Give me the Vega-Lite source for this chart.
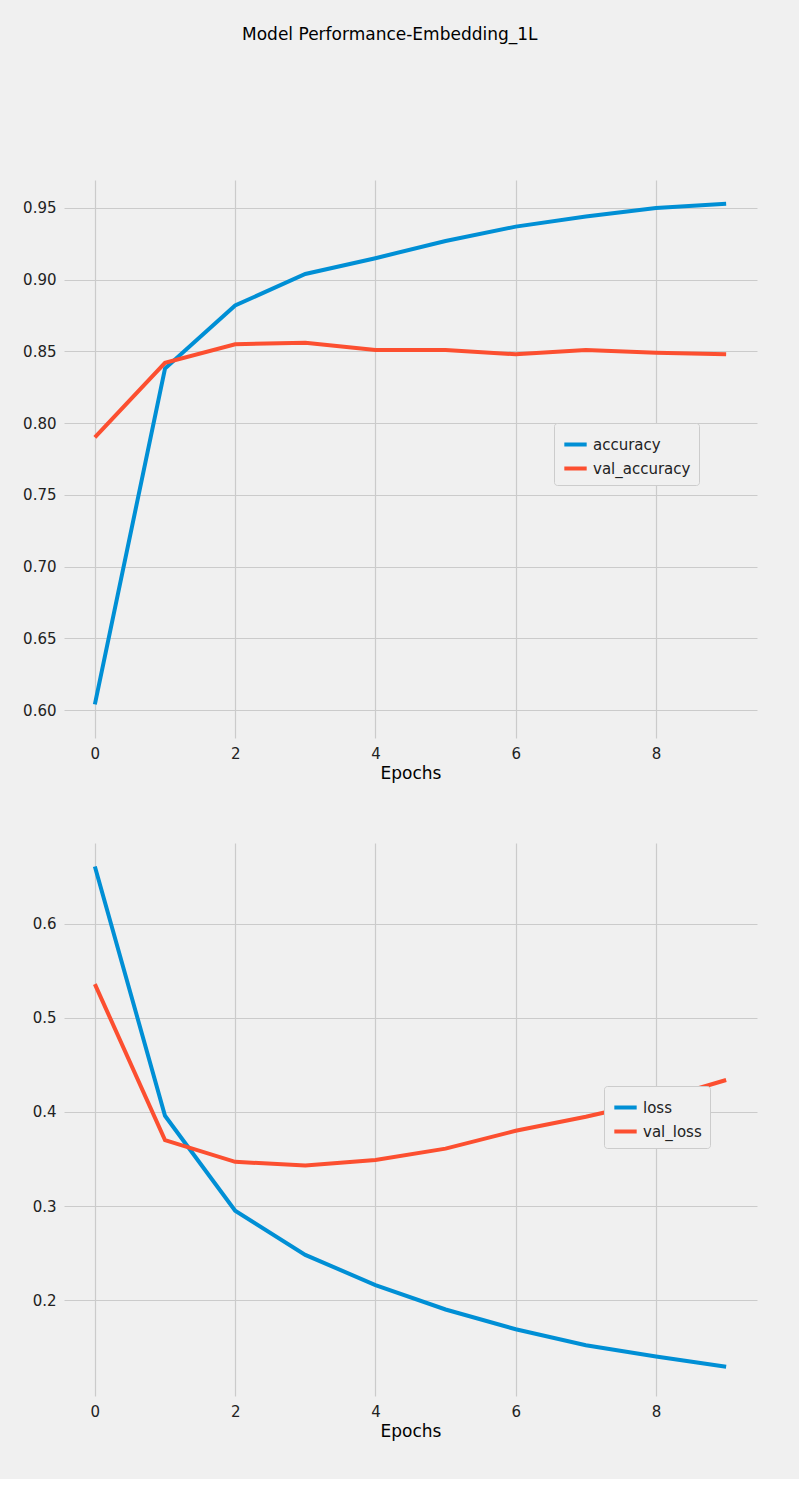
{
  "$schema": "https://vega.github.io/schema/vega-lite/v6.json",
  "background": "#f0f0f0",
  "padding": {"left": 22, "top": 26, "right": 42, "bottom": 40},
  "autosize": {"type": "pad"},
  "title": {"text": "Model Performance-Embedding_1L", "fontSize": 17, "fontWeight": "normal", "font": "DejaVu Sans", "color": "#000", "offset": 136, "anchor": "middle"},
  "config": {
    "view": {"stroke": null},
    "font": "DejaVu Sans",
    "axis": {"grid": true, "gridColor": "#cbcbcb", "gridWidth": 1.2, "domain": false, "ticks": false, "labelFontSize": 15, "labelColor": "#222", "labelPadding": 8, "titleFontSize": 17, "titleFontWeight": "normal", "titleColor": "#000"},
    "legend": {"labelFontSize": 15, "labelColor": "#222", "symbolType": "stroke", "symbolStrokeWidth": 4, "symbolSize": 500, "fillColor": "#f0f0f0", "strokeColor": "#cccccc", "padding": 8, "cornerRadius": 3, "title": null}
  },
  "spacing": 62,
  "datasets": {
    "acc": [
      {"epoch": 0, "series": "accuracy", "v": 0.604}, {"epoch": 1, "series": "accuracy", "v": 0.838},
      {"epoch": 2, "series": "accuracy", "v": 0.882}, {"epoch": 3, "series": "accuracy", "v": 0.904},
      {"epoch": 4, "series": "accuracy", "v": 0.915}, {"epoch": 5, "series": "accuracy", "v": 0.927},
      {"epoch": 6, "series": "accuracy", "v": 0.937}, {"epoch": 7, "series": "accuracy", "v": 0.944},
      {"epoch": 8, "series": "accuracy", "v": 0.950}, {"epoch": 9, "series": "accuracy", "v": 0.953},
      {"epoch": 0, "series": "val_accuracy", "v": 0.790}, {"epoch": 1, "series": "val_accuracy", "v": 0.842},
      {"epoch": 2, "series": "val_accuracy", "v": 0.855}, {"epoch": 3, "series": "val_accuracy", "v": 0.856},
      {"epoch": 4, "series": "val_accuracy", "v": 0.851}, {"epoch": 5, "series": "val_accuracy", "v": 0.851},
      {"epoch": 6, "series": "val_accuracy", "v": 0.848}, {"epoch": 7, "series": "val_accuracy", "v": 0.851},
      {"epoch": 8, "series": "val_accuracy", "v": 0.849}, {"epoch": 9, "series": "val_accuracy", "v": 0.848}
    ],
    "loss": [
      {"epoch": 0, "series": "loss", "v": 0.661}, {"epoch": 1, "series": "loss", "v": 0.396},
      {"epoch": 2, "series": "loss", "v": 0.295}, {"epoch": 3, "series": "loss", "v": 0.248},
      {"epoch": 4, "series": "loss", "v": 0.216}, {"epoch": 5, "series": "loss", "v": 0.190},
      {"epoch": 6, "series": "loss", "v": 0.169}, {"epoch": 7, "series": "loss", "v": 0.152},
      {"epoch": 8, "series": "loss", "v": 0.140}, {"epoch": 9, "series": "loss", "v": 0.129},
      {"epoch": 0, "series": "val_loss", "v": 0.536}, {"epoch": 1, "series": "val_loss", "v": 0.370},
      {"epoch": 2, "series": "val_loss", "v": 0.347}, {"epoch": 3, "series": "val_loss", "v": 0.343},
      {"epoch": 4, "series": "val_loss", "v": 0.349}, {"epoch": 5, "series": "val_loss", "v": 0.361},
      {"epoch": 6, "series": "val_loss", "v": 0.380}, {"epoch": 7, "series": "val_loss", "v": 0.395},
      {"epoch": 8, "series": "val_loss", "v": 0.412}, {"epoch": 9, "series": "val_loss", "v": 0.434}
    ]
  },
  "vconcat": [
    {
      "width": 693, "height": 558,
      "data": {"name": "acc"},
      "mark": {"type": "line", "strokeWidth": 4, "clip": true},
      "encoding": {
        "x": {"field": "epoch", "type": "quantitative", "scale": {"domain": [-0.44, 9.44], "nice": false, "zero": false}, "axis": {"values": [0, 2, 4, 6, 8], "title": "Epochs"}},
        "y": {"field": "v", "type": "quantitative", "scale": {"domain": [0.5805, 0.9695], "nice": false, "zero": false}, "axis": {"values": [0.6, 0.65, 0.7, 0.75, 0.8, 0.85, 0.9, 0.95], "format": ".2f", "title": null}},
        "color": {"field": "series", "type": "nominal", "scale": {"range": ["#008fd5", "#fc4f30"]}, "legend": {"orient": "none", "legendX": 490, "legendY": 243}}
      }
    },
    {
      "width": 693, "height": 553,
      "data": {"name": "loss"},
      "mark": {"type": "line", "strokeWidth": 4, "clip": true},
      "encoding": {
        "x": {"field": "epoch", "type": "quantitative", "scale": {"domain": [-0.44, 9.44], "nice": false, "zero": false}, "axis": {"values": [0, 2, 4, 6, 8], "title": "Epochs"}},
        "y": {"field": "v", "type": "quantitative", "scale": {"domain": [0.098, 0.686], "nice": false, "zero": false}, "axis": {"values": [0.2, 0.3, 0.4, 0.5, 0.6], "format": ".1f", "title": null}},
        "color": {"field": "series", "type": "nominal", "scale": {"range": ["#008fd5", "#fc4f30"]}, "legend": {"orient": "none", "legendX": 540, "legendY": 243}}
      }
    }
  ],
  "resolve": {"scale": {"color": "independent"}}
}
